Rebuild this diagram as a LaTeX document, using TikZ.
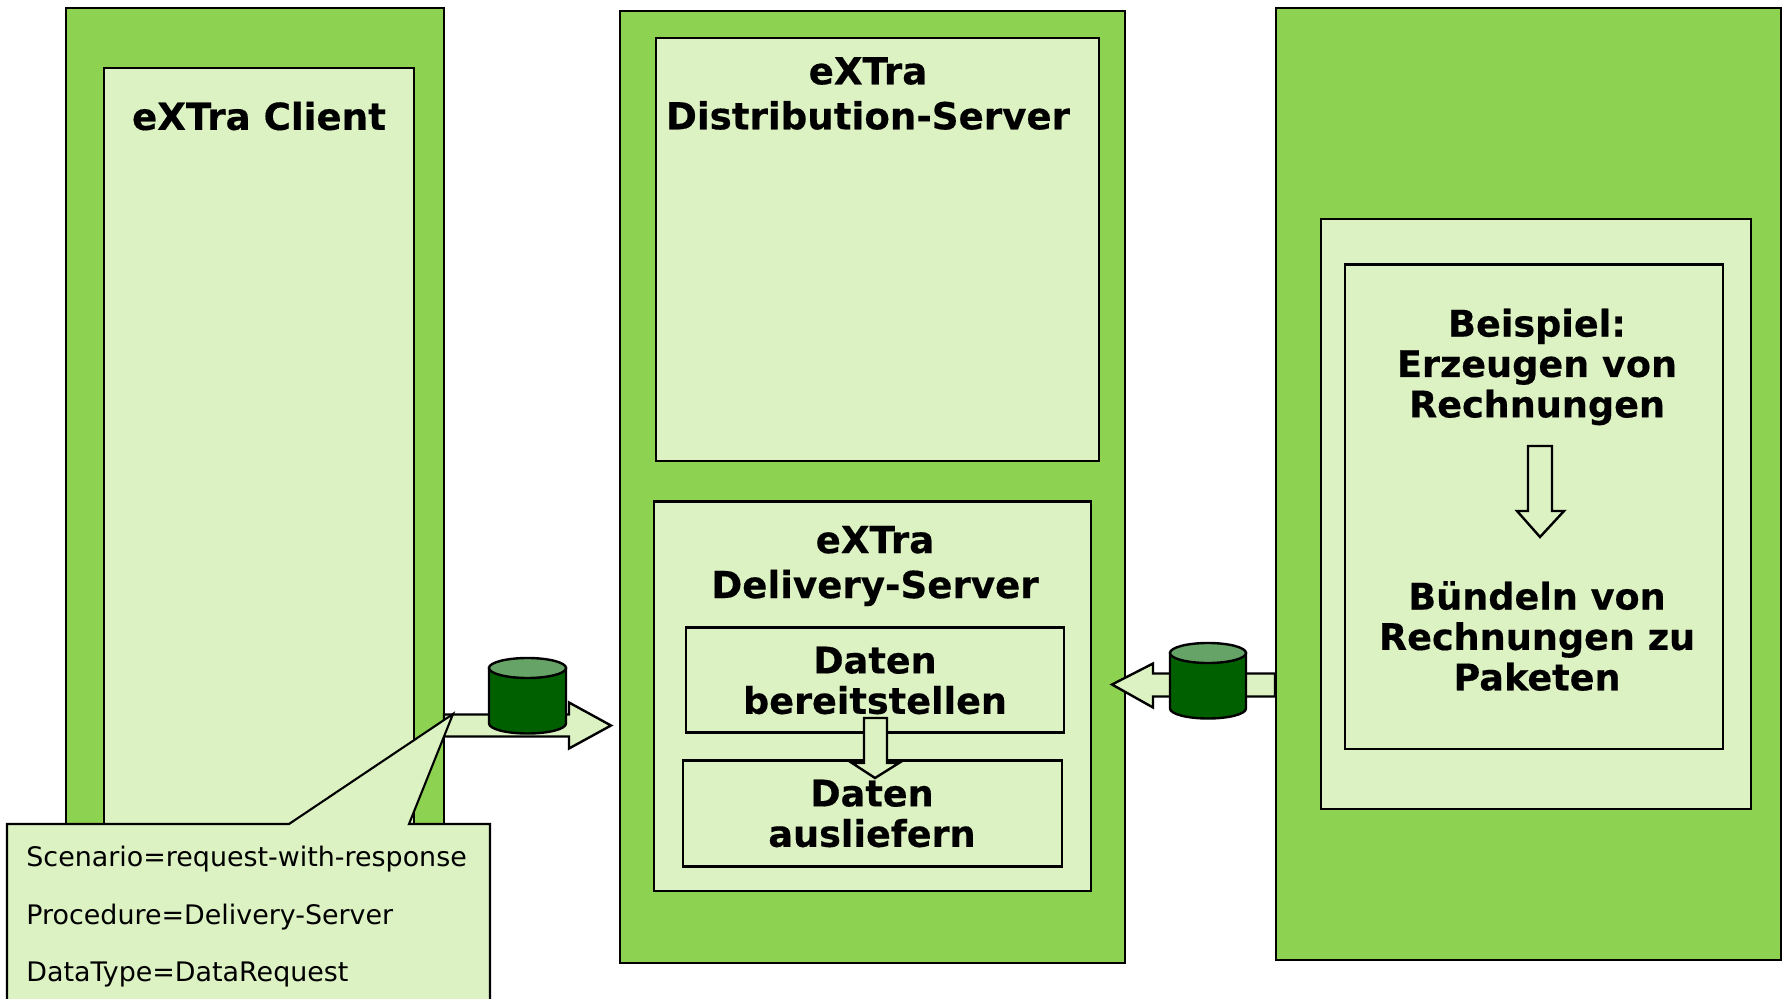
\documentclass[tikz,border=0pt]{standalone}
\usepackage{fontspec}
\setmainfont[BoldFeatures={FakeBold=0.4}]{DejaVu Sans}
\definecolor{outergreen}{HTML}{8DD250}
\definecolor{palegreen}{HTML}{DCF2C2}
\definecolor{darkcyl}{HTML}{006000}
\definecolor{topcyl}{HTML}{66A366}
\newcommand{\areabox}[6]{%
  \pgfmathsetmacro{\cxx}{(#3+#5)/2}\pgfmathsetmacro{\cyy}{(#4+#6)/2}%
  \pgfmathsetmacro{\www}{(#5-#3)*0.5}\pgfmathsetmacro{\hhh}{(#6-#4)*0.5}%
  \node[#2,minimum width=\www pt,minimum height=\hhh pt] (#1) at (\cxx,\cyy) {};}
\newcommand{\drum}[6]{% name, x1, x2, ytop centre, ybottom centre, ry
  \pgfmathsetmacro{\rxx}{(#3-#2)/2}\pgfmathsetmacro{\mxx}{(#2+#3)/2}%
  \filldraw[drumline,fill=darkcyl] (#2,#4) -- (#2,#5) arc[start angle=180,end angle=360,x radius=\rxx,y radius=-#6] -- (#3,#4) -- cycle;
  \filldraw[drumline,fill=topcyl] (\mxx,#4) ellipse[x radius=\rxx,y radius=#6];
  \coordinate (#1) at (\mxx,#4);}
\tikzset{
  x=0.5pt,y=-0.5pt,
  outerbox/.style={draw=black,fill=outergreen,line width=1.05pt,inner sep=0pt,outer sep=0pt},
  innerbox/.style={draw=black,fill=palegreen,line width=1.05pt,inner sep=0pt,outer sep=0pt},
  blockarrow/.style={draw=black,fill=palegreen,line width=1.2pt,line join=miter},
  drumline/.style={draw=black,line width=1.2pt},
  heading/.style={font=\fontsize{18.6}{22.5}\selectfont\bfseries,align=center,inner sep=0pt},
  bodybold/.style={font=\fontsize{18.3}{20.2}\selectfont\bfseries,align=center,inner sep=0pt},
  calltext/.style={font=\fontsize{13.45}{16}\selectfont,anchor=base west,inner sep=0pt},
}
\begin{document}
\begin{tikzpicture}
\useasboundingbox (0,0) rectangle (1787,999);
\fill[white] (0,0) rectangle (1787,999);
% client
\areabox{clientouter}{outerbox}{66}{8}{444}{900}
\areabox{clientinner}{innerbox}{104}{68}{414}{900}
\node[heading] (clienttitle) at (259,116) {eXTra Client};
% central
\areabox{centerouter}{outerbox}{620}{11}{1125}{963}
\areabox{distbox}{innerbox}{656}{38}{1099}{461}
\node[heading] (disttitle) at (868,93.5) {eXTra\\Distribution-Server};
\areabox{delivbox}{innerbox}{654}{501.5}{1091}{891}
\node[heading] (delivtitle) at (875,566) {eXTra\\Delivery-Server};
\areabox{provide}{innerbox}{686}{627.5}{1064}{732.5}
\node[bodybold] (providetext) at (875,680.5) {Daten\\bereitstellen};
\areabox{deliver}{innerbox}{683}{760.5}{1062}{866.5}
\node[bodybold] (delivertext) at (872,813.5) {Daten\\ausliefern};
\draw[blockarrow] (864,718) -- (887,718) -- (887,763) -- (899,763) -- (875,778) -- (852,763) -- (864,763) -- cycle;
% right
\areabox{rightouter}{outerbox}{1276}{8}{1781}{960}
\areabox{rightbox}{innerbox}{1321}{219}{1751}{809}
\areabox{rightinner}{innerbox}{1345}{264.5}{1723}{749}
\node[bodybold] (example) at (1537,367) {Beispiel:\\Erzeugen von\\Rechnungen};
\node[bodybold] (bundle) at (1537,636) {Bündeln von\\Rechnungen zu\\Paketen};
\draw[blockarrow] (1528,446) -- (1552,446) -- (1552,511) -- (1564,511) -- (1540,537) -- (1517,511) -- (1528,511) -- cycle;
% block arrows with drums
\draw[blockarrow] (444,714.5) -- (569,714.5) -- (569,702.5) -- (611,725.5) -- (569,748.5) -- (569,736.5) -- (444,736.5) -- cycle;
\drum{drumleft}{489}{566}{668}{723.5}{10}
\draw[blockarrow] (1275,673.5) -- (1153,673.5) -- (1153,663.5) -- (1112,684.5) -- (1153,707.5) -- (1153,696.5) -- (1275,696.5) -- cycle;
\drum{drumright}{1170}{1246}{653}{708.5}{10}
% callout
\draw[innerbox] (7,824) -- (289,824) -- (453,714) -- (409,824) -- (490,824) -- (490,1010) -- (7,1010) -- cycle;
\node[calltext] (scenario) at (26,866.5) {Scenario=request-with-response};
\node[calltext] (procedure) at (26,924) {Procedure=Delivery-Server};
\node[calltext] (datatype) at (26,981.5) {DataType=DataRequest};
\end{tikzpicture}
\end{document}
